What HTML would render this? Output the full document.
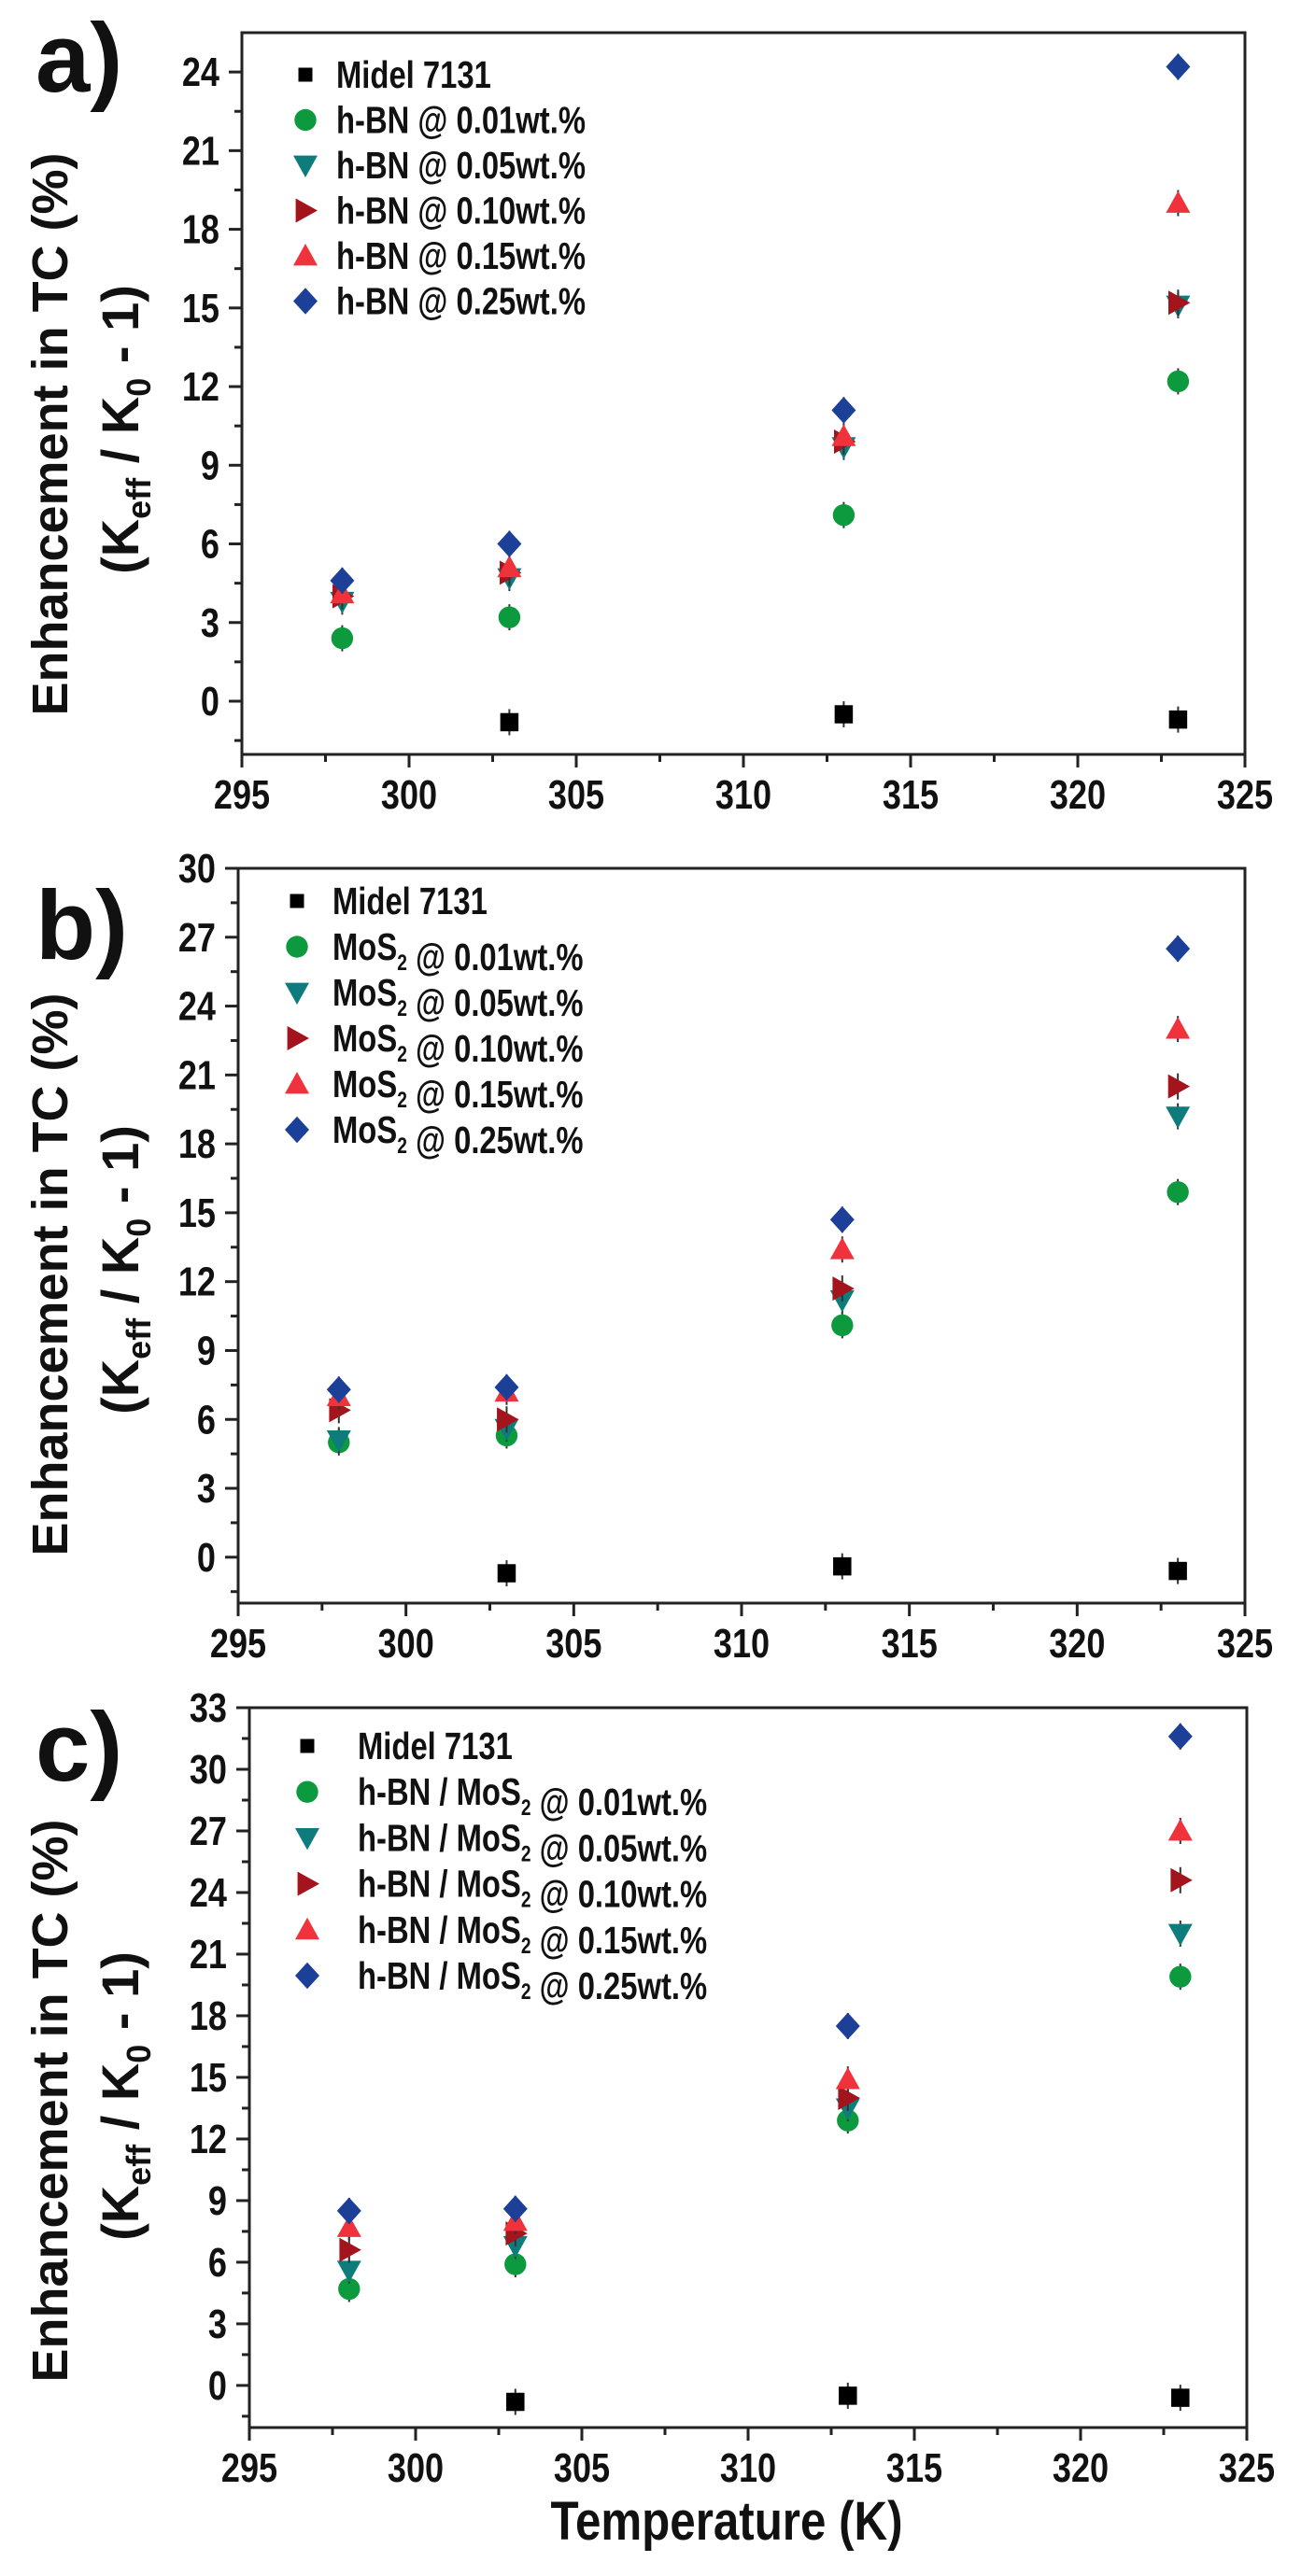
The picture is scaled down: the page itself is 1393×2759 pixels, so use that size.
<!DOCTYPE html>
<html><head><meta charset="utf-8">
<style>
html,body{margin:0;padding:0;background:#fff;}
svg{display:block;}
text{font-family:"Liberation Sans",sans-serif;font-weight:bold;fill:#111;}
</style></head>
<body>
<svg id="fig" width="1393" height="2759" viewBox="0 0 1393 2759" xmlns="http://www.w3.org/2000/svg"></svg>
<script>
// ---- data ----
const temps = [298, 303, 313, 323];
const xTicks = [295, 300, 305, 310, 315, 320, 325];
const concLabels = ["0.01wt.%", "0.05wt.%", "0.10wt.%", "0.15wt.%", "0.25wt.%"];
const midelTemps = [303, 313, 323];
// panel a (h-BN)
const aMidel = [-0.8, -0.5, -0.7];
const a001 = [2.4, 3.2, 7.1, 12.2];
const a005 = [3.8, 4.7, 9.7, 15.1];
const a010 = [4.0, 4.9, 9.9, 15.2];
const a015 = [4.1, 5.1, 10.1, 19.0];
const a025 = [4.6, 6.0, 11.1, 24.2];
const aYTicks = [0, 3, 6, 9, 12, 15, 18, 21, 24];
// panel b (MoS2)
const bMidel = [-0.7, -0.4, -0.6];
const b001 = [5.0, 5.3, 10.1, 15.9];
const b005 = [5.1, 5.6, 11.2, 19.2];
const b010 = [6.4, 6.0, 11.7, 20.5];
const b015 = [7.0, 7.2, 13.4, 23.0];
const b025 = [7.3, 7.4, 14.7, 26.5];
const bYTicks = [0, 3, 6, 9, 12, 15, 18, 21, 24, 27, 30];
// panel c (h-BN / MoS2)
const cMidel = [-0.8, -0.5, -0.6];
const c001 = [4.7, 5.9, 12.9, 19.9];
const c005 = [5.6, 6.8, 13.5, 22.0];
const c010 = [6.6, 7.4, 14.0, 24.6];
const c015 = [7.7, 8.0, 14.9, 27.0];
const c025 = [8.5, 8.6, 17.5, 31.6];
const cYTicks = [0, 3, 6, 9, 12, 15, 18, 21, 24, 27, 30, 33];

const NS = "http://www.w3.org/2000/svg";
const svg = document.getElementById("fig");
function el(tag, attrs, parent) {
  const e = document.createElementNS(NS, tag);
  for (const k in attrs) e.setAttribute(k, attrs[k]);
  (parent || svg).appendChild(e);
  return e;
}
function ntext(parent, x, y, size, sx, anchor) {
  return el("text", {x: 0, y: 0, "font-size": size, "text-anchor": anchor || "start", transform: `translate(${x},${y}) scale(${sx},1)`}, parent);
}
const colors = ["#000000", "#0d9a3e", "#0e7c7c", "#a3141c", "#f0323c", "#1c3f98"];
const shapes = ["square", "circle", "down", "right", "up", "diamond"];
function marker(g, shape, cx, cy, col, s) {
  let e;
  if (shape === "square") e = el("rect", {x: cx - s*0.75, y: cy - s*0.75, width: s*1.5, height: s*1.5, fill: col}, g);
  else if (shape === "circle") e = el("circle", {cx: cx, cy: cy, r: s*0.9, fill: col}, g);
  else if (shape === "down") e = el("polygon", {points: `${cx-s},${cy-s*0.8} ${cx+s},${cy-s*0.8} ${cx},${cy+s}`, fill: col}, g);
  else if (shape === "up") e = el("polygon", {points: `${cx-s},${cy+s*0.8} ${cx+s},${cy+s*0.8} ${cx},${cy-s}`, fill: col}, g);
  else if (shape === "right") e = el("polygon", {points: `${cx-s*0.8},${cy-s} ${cx-s*0.8},${cy+s} ${cx+s},${cy}`, fill: col}, g);
  else e = el("polygon", {points: `${cx},${cy-s*1.1} ${cx+s},${cy} ${cx},${cy+s*1.1} ${cx-s},${cy}`, fill: col}, g);
  return e;
}

function panel(cfg) {
  const g = el("g", {});
  
  
  const L = cfg.left, R = cfg.right, T = cfg.top, B = cfg.bottom;
  const sx = v => L + (v - 295) / 30 * (R - L);
  const sy = v => B - (v - cfg.ymin) / (cfg.ymax - cfg.ymin) * (B - T);
  const fr = el("rect", {x: L, y: T, width: R - L, height: B - T, fill: "none", stroke: "#222", "stroke-width": 3}, g);
  
  
  const xg = el("g", {}, g);
  
  
  for (let i = 0; i < xTicks.length; i++) {
    const v = xTicks[i];
    el("line", {x1: sx(v), x2: sx(v), y1: B, y2: B + 14, stroke: "#222", "stroke-width": 3}, xg);
    if (i < xTicks.length - 1) el("line", {x1: sx(v + 2.5), x2: sx(v + 2.5), y1: B, y2: B + 8, stroke: "#222", "stroke-width": 3}, xg);
    const t = ntext(xg, sx(v), B + 58, 44, 0.82, "middle");
    t.textContent = v;
    
    
  }
  const yg = el("g", {}, g);
  
  
  const yt = cfg.yticks;
  for (let i = 0; i < yt.length; i++) {
    const v = yt[i];
    el("line", {x1: L - 14, x2: L, y1: sy(v), y2: sy(v), stroke: "#222", "stroke-width": 3}, yg);
    const t = ntext(yg, L - 24, sy(v) + 15, 44, 0.82, "end");
    t.textContent = v;
    
    
  }
  for (let v = yt[0] - 1.5; v < cfg.ymax; v += 3) {
    if (v > cfg.ymin) el("line", {x1: L - 8, x2: L, y1: sy(v), y2: sy(v), stroke: "#222", "stroke-width": 3}, yg);
  }
  const t1 = el("text", {x: 0, y: 0, "text-anchor": "middle", "font-size": 54, transform: `translate(${cfg.titleX1},${cfg.titleY}) rotate(-90)`}, g);
  t1.textContent = "Enhancement in TC (%)";
  
  
  const t2 = el("text", {x: 0, y: 0, "text-anchor": "middle", "font-size": 56, transform: `translate(${cfg.titleX2},${cfg.titleY - 5}) rotate(-90)`}, g);
  t2.innerHTML = '(K<tspan font-size="36" dy="13">eff</tspan><tspan dy="-13"> / K</tspan><tspan font-size="36" dy="13">0</tspan><tspan dy="-13"> - 1)</tspan>';
  
  
  const pl = el("text", {x: cfg.labelX, y: cfg.labelY, "font-size": 105}, g);
  pl.textContent = cfg.id + ")";
  
  
  const series = [cfg.midel].concat(cfg.series);
  for (let s = 0; s < series.length; s++) {
    const sg = el("g", {}, g);
    
    
    const xs = s === 0 ? midelTemps : temps;
    const vals = series[s];
    for (let i = 0; i < vals.length; i++) {
      const cx = sx(xs[i]), cy = sy(vals[i]);
      el("line", {x1: cx, x2: cx, y1: cy - 14, y2: cy + 14, stroke: "#333", "stroke-width": 2}, sg);
      const m = marker(sg, shapes[s], cx, cy, colors[s], 13);
      
      
    }
  }
  const lg = el("g", {}, g);
  
  
  const names = ["Midel 7131"].concat(concLabels.map(c => cfg.prefix + " @ " + c));
  for (let i = 0; i < names.length; i++) {
    const y = cfg.legY + i * cfg.legStep;
    const e = el("g", {}, lg);
    
    
    marker(e, shapes[i], cfg.legX, y, colors[i], i === 0 ? 10 : 13);
    const t = ntext(e, cfg.legX + cfg.legGap, y + 14, 41, 0.8);
    if (i > 0 && cfg.sub) {
      t.innerHTML = cfg.prefix.replace("MoS", "MoS<tspan font-size='24' dy='11'>2</tspan><tspan dy='-11'>") + "</tspan> @ " + concLabels[i - 1];
    } else t.textContent = names[i];
  }
}

panel({id: "a", left: 259, right: 1333, top: 35, bottom: 808, ymin: -2.03, ymax: 25.5, yticks: aYTicks,
  midel: aMidel, series: [a001, a005, a010, a015, a025], prefix: "h-BN", sub: false,
  legX: 327, legY: 80, legStep: 48.5, legGap: 33, titleX1: 72, titleX2: 148, titleY: 465, labelX: 38, labelY: 98});
panel({id: "b", left: 255, right: 1333, top: 930, bottom: 1717, ymin: -2, ymax: 30, yticks: bYTicks,
  midel: bMidel, series: [b001, b005, b010, b015, b025], prefix: "MoS", sub: true,
  legX: 318, legY: 965, legStep: 49, legGap: 38, titleX1: 72, titleX2: 148, titleY: 1365, labelX: 38, labelY: 1027});
panel({id: "c", left: 267, right: 1335, top: 1829, bottom: 2600, ymin: -2.05, ymax: 33, yticks: cYTicks,
  midel: cMidel, series: [c001, c005, c010, c015, c025], prefix: "h-BN / MoS", sub: true,
  legX: 329, legY: 1870, legStep: 49.2, legGap: 54, titleX1: 72, titleX2: 148, titleY: 2250, labelX: 38, labelY: 1907});

const xt = ntext(svg, 778, 2720, 58, 0.85, "middle");
xt.textContent = "Temperature (K)";


</script>
</body></html>
